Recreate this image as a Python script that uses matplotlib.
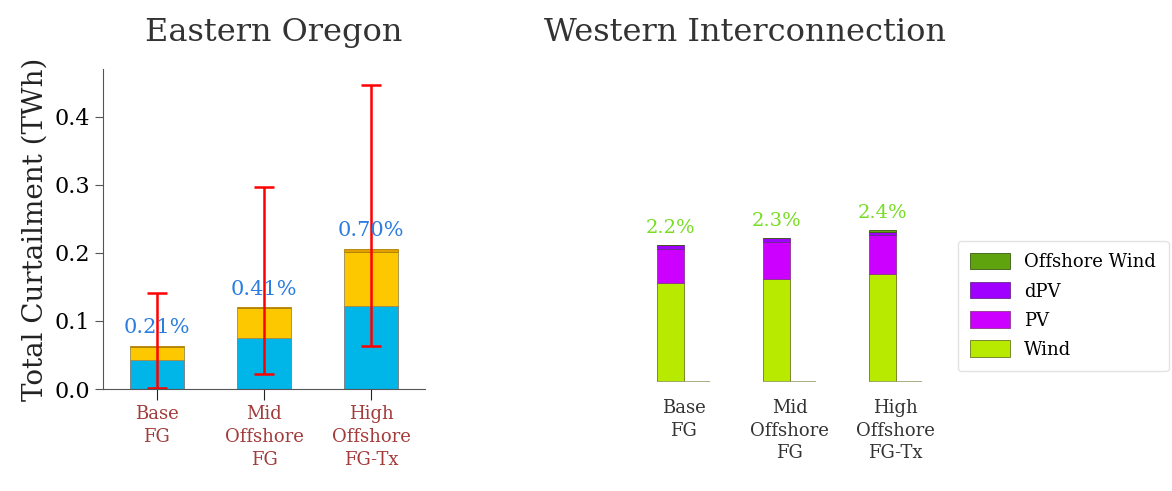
import matplotlib
matplotlib.use('Agg')
import matplotlib.pyplot as plt
import numpy as np

plt.rcParams['font.family'] = 'DejaVu Serif'

# Eastern Oregon (TWh)
scenarios = ['Base\nFG', 'Mid\nOffshore\nFG', 'High\nOffshore\nFG-Tx']
eo_wind = [0.043, 0.0745, 0.122]
eo_pv = [0.019, 0.044, 0.079]
eo_other = [0.0015, 0.002, 0.005]
eo_low = [0.0015, 0.022, 0.063]
eo_high = [0.141, 0.297, 0.447]
eo_pct = ['0.21%', '0.41%', '0.70%']

# Western Interconnection (TWh)
wi_wind = [1.52, 1.58, 1.65]
wi_pv = [0.52, 0.56, 0.60]
wi_dpv = [0.06, 0.07, 0.05]
wi_offshore = [0.0, 0.0, 0.03]
wi_pct = ['2.2%', '2.3%', '2.4%']

fig = plt.figure(figsize=(11.72, 4.91), dpi=100)
ax1 = fig.add_axes([0.0879, 0.2077, 0.2747, 0.6518])
ax2 = fig.add_axes([0.538, 0.222, 0.2713, 0.6375])

x = np.arange(len(scenarios))
grey = '#555555'

# left panel
b1 = np.array(eo_wind)
b2 = b1 + np.array(eo_pv)
tot = b2 + np.array(eo_other)
ax1.bar(x, eo_wind, 0.5, color='#00b5e8', edgecolor='#7a7a7a', lw=0.6)
ax1.bar(x, eo_pv, 0.5, bottom=b1, color='#fdc800', edgecolor='#9a8a50', lw=0.6)
ax1.bar(x, eo_other, 0.5, bottom=b2, color='#e0a000', edgecolor='#b08000', lw=0.6)
yerr = [tot - np.array(eo_low), np.array(eo_high) - tot]
ax1.errorbar(x, tot, yerr=yerr, fmt='none', ecolor='red', elinewidth=1.8,
             capsize=7, capthick=1.8)
for xi, t, p in zip(x, tot, eo_pct):
    ax1.annotate(p, (xi, t), xytext=(0, 6), textcoords='offset points',
                 ha='center', va='bottom', fontsize=15, color='#2b7de0')
ax1.set_xlim(-0.5, 2.5)
ax1.set_ylim(0, 0.47)
ax1.set_yticks([0.0, 0.1, 0.2, 0.3, 0.4])
ax1.set_xticks(x)
ax1.set_xticklabels(scenarios, fontsize=13, color='#a33b3b', linespacing=1.35)
ax1.tick_params(axis='y', labelsize=16, color=grey, length=6)
ax1.tick_params(axis='x', color='#222222', length=8)
for s in ['top', 'right']:
    ax1.spines[s].set_visible(False)
for s in ['left', 'bottom']:
    ax1.spines[s].set_color(grey)
ax1.set_ylabel('Total Curtailment (TWh)', fontsize=20, color='#222222')
ax1.set_title('Eastern Oregon', fontsize=23, color='#333333', pad=20, x=0.53)

# right panel
w1 = np.array(wi_wind)
w2 = w1 + np.array(wi_pv)
w3 = w2 + np.array(wi_dpv)
w4 = w3 + np.array(wi_offshore)
xl = x - 0.25
ax2.bar(xl, wi_wind, 0.25, align='edge', color='#b8ea00', edgecolor='#6a7a20', lw=0.6, label='Wind')
ax2.bar(xl, wi_pv, 0.25, align='edge', bottom=w1, color='#cc00ff', edgecolor='#8a3a8a', lw=0.6, label='PV')
ax2.bar(xl, wi_dpv, 0.25, align='edge', bottom=w2, color='#a000ff', edgecolor='#6a2a8a', lw=0.6, label='dPV')
ax2.bar(xl, wi_offshore, 0.25, align='edge', bottom=w3, color='#5fa30f', edgecolor='#3a5a10', lw=0.6,
        label='Offshore Wind')
ax2.bar(x, [0, 0, 0], 0.5, edgecolor='#9aa070', lw=1.2)
for xi, t, p in zip(xl + 0.125, w4, wi_pct):
    ax2.annotate(p, (xi, t), xytext=(0, 6), textcoords='offset points',
                 ha='center', va='bottom', fontsize=14, color='#77dd22')
ax2.set_xlim(-0.5, 2.5)
ax2.set_ylim(0, 4.8)
ax2.set_xticks(x)
ax2.set_xticklabels(scenarios, fontsize=13, color='#333333', linespacing=1.35)
ax2.set_yticks([])
ax2.tick_params(axis='x', length=0, pad=12)
for s in ax2.spines.values():
    s.set_visible(False)
ax2.set_title('Western Interconnection', fontsize=23, color='#333333', pad=20, x=0.36)

h, l = ax2.get_legend_handles_labels()
ax2.legend(h[::-1], l[::-1], loc='center left', bbox_to_anchor=(1.0, 0.243),
           fontsize=13, frameon=True, edgecolor='#dddddd', handlelength=2.2,
           handleheight=1.0, borderpad=0.7, labelspacing=0.6)

fig.savefig('out.png', dpi=100)
